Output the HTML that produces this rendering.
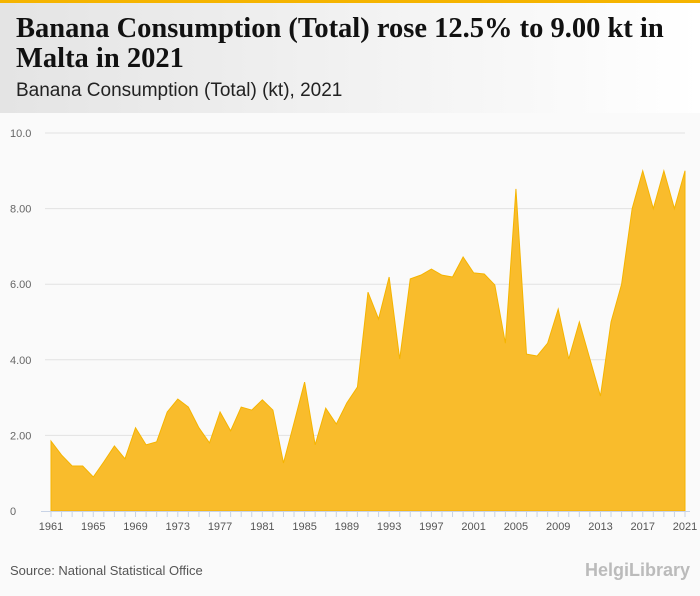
<!DOCTYPE html>
<html><head><meta charset="utf-8"><style>
body{margin:0;width:700px;height:596px;overflow:hidden;background:#fafafa;font-family:"Liberation Sans",sans-serif;position:relative}
#top{position:absolute;left:0;top:0;width:700px;height:3px;background:#f5b400}
#hdr{position:absolute;left:0;top:3px;width:700px;height:110px;background:linear-gradient(90deg,#e4e4e4,#ffffff)}
#title{position:absolute;left:16px;top:14px;font-family:"Liberation Serif",serif;font-weight:bold;font-size:28.5px;line-height:30px;color:#111;width:684px;white-space:nowrap}
#sub{position:absolute;left:16px;top:80px;font-size:19px;color:#222}
#src{position:absolute;left:10px;top:563px;font-size:13px;color:#555}
#logo{position:absolute;right:10px;top:560px;font-size:18px;color:#bbb;font-weight:bold}
svg{position:absolute;left:0;top:0}
</style></head><body>
<div id="top"></div>
<div id="hdr"></div>
<div id="title">Banana Consumption (Total) rose 12.5% to 9.00 kt in<br>Malta in 2021</div>
<div id="sub">Banana Consumption (Total) (kt), 2021</div>
<svg id="chart" width="700" height="596"></svg>
<div id="src">Source: National Statistical Office</div>
<div id="logo">HelgiLibrary</div>
<script>
const years=[];for(let y=1961;y<=2021;y++)years.push(y);
const values=[1.85,1.48,1.19,1.19,0.90,1.30,1.72,1.38,2.20,1.75,1.83,2.62,2.96,2.75,2.20,1.80,2.62,2.12,2.75,2.67,2.94,2.67,1.27,2.33,3.41,1.75,2.72,2.30,2.86,3.28,5.79,5.08,6.19,4.02,6.14,6.24,6.40,6.24,6.19,6.72,6.30,6.27,5.98,4.44,8.52,4.15,4.10,4.44,5.34,4.02,5.00,4.02,3.04,5.00,6.00,8.00,9.00,8.00,9.00,8.00,9.00];
const yTicks=[0,2,4,6,8,10];
const yTickLabels=["0","2.00","4.00","6.00","8.00","10.0"];
const xLabelYears=[1961,1965,1969,1973,1977,1981,1985,1989,1993,1997,2001,2005,2009,2013,2017,2021];
const NS="http://www.w3.org/2000/svg";
const svg=document.getElementById('chart');
const x0=51,x1=685,yb=511,yt=133;
const X=yr=>x0+(yr-1961)*(x1-x0)/60;
const Y=v=>yb-v*(yb-yt)/10;
function mk(t,a){const e=document.createElementNS(NS,t);for(const k in a)e.setAttribute(k,a[k]);svg.appendChild(e);return e;}
yTicks.forEach((t,i)=>{
 if(t>0){const g=mk('line',{x1:45,x2:685,y1:Y(t),y2:Y(t),stroke:'#e2e2e2','stroke-width':1});
 
 }
 const l=mk('text',{x:10,y:Y(t)+4,'font-size':11,fill:'#666','font-family':'Liberation Sans, sans-serif'});
 l.textContent=yTickLabels[i];
 
 
});
let d='M'+X(years[0])+','+Y(0);
years.forEach((yr,i)=>{d+=' L'+X(yr)+','+Y(values[i]);});
d+=' L'+X(years[years.length-1])+','+Y(0)+' Z';
const area=mk('path',{d:d,fill:'#f9bc2c',stroke:'#f5b400','stroke-width':1});


const ax=mk('line',{x1:41,x2:690,y1:yb+0.5,y2:yb+0.5,stroke:'#c8d3e6','stroke-width':1});


years.forEach(yr=>{
 const t=mk('line',{x1:X(yr),x2:X(yr),y1:yb,y2:yb+6,stroke:'#c8d3e6','stroke-width':1});
 
 
});
xLabelYears.forEach(yr=>{
 const l=mk('text',{x:X(yr),y:530,'font-size':11,fill:'#555','text-anchor':'middle','font-family':'Liberation Sans, sans-serif'});
 l.textContent=yr;
 
 
});
</script>
</body></html>
